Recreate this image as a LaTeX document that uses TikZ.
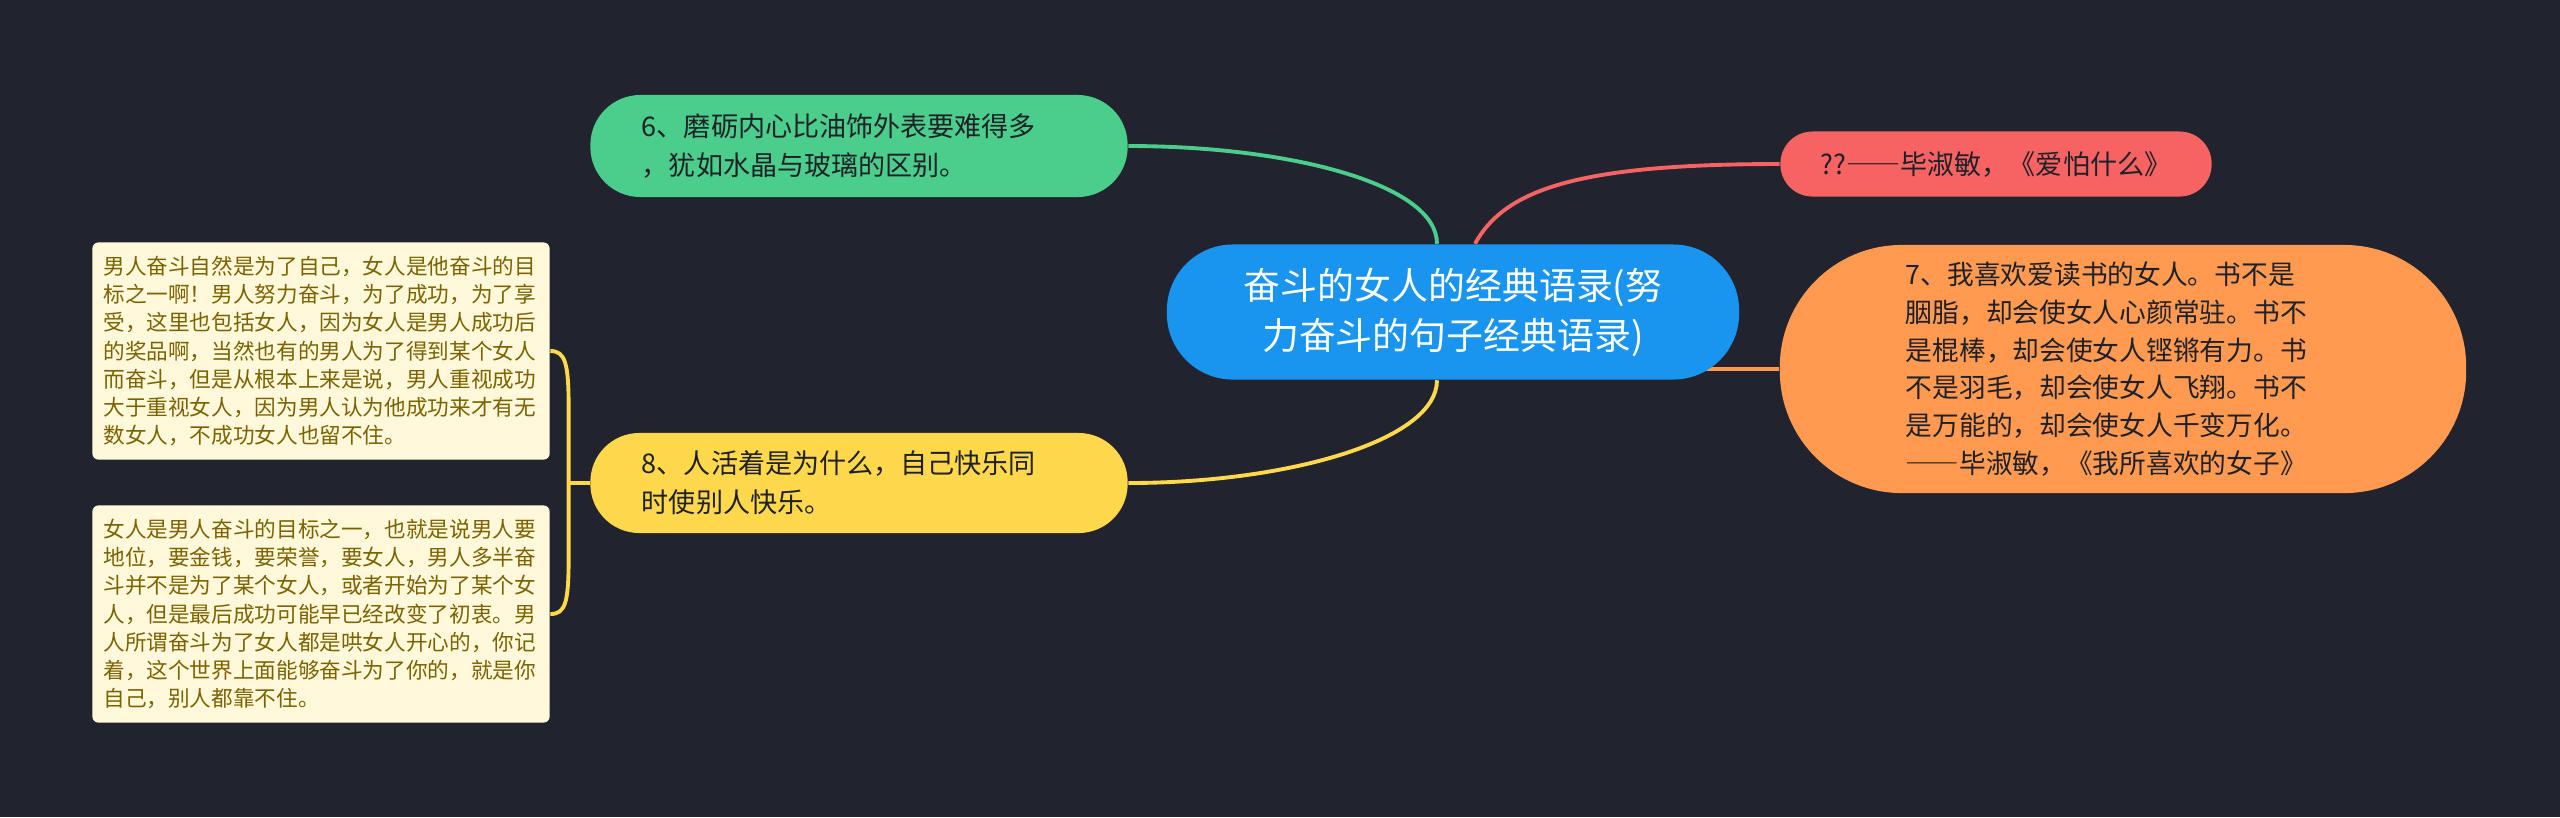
\documentclass[tikz,border=0pt]{standalone}
\usepackage{fontspec}
\setmainfont{Noto Sans CJK SC}
\newfontfamily\widefont[RawFeature=+fwid]{Noto Sans CJK SC}
\newcommand{\longdash}{{\widefont ——}}
\usetikzlibrary{calc,backgrounds}
\definecolor{bgdark}{HTML}{21242F}
\definecolor{inkdark}{HTML}{1F2129}
\definecolor{hubblue}{HTML}{1A95EF}
\definecolor{tipgreen}{HTML}{4BCD8B}
\definecolor{tipyellow}{HTML}{FFD84B}
\definecolor{tiporange}{HTML}{FF9A50}
\definecolor{tipred}{HTML}{F76262}
\definecolor{notefill}{HTML}{FFF8DA}
\definecolor{noteink}{HTML}{7C6300}

\begin{document}
\begin{tikzpicture}[
  x=0.01cm, y=-0.01cm,
  topic/.style={rectangle, inner sep=0pt, align=left, text=inkdark,
                font=\fontsize{7.7}{11.1}\selectfont},
  note/.style={rectangle, rounded corners=0.06cm, fill=notefill, text=noteink,
               align=left, text width=4.35cm, minimum width=4.57cm,
               minimum height=2.17cm, inner sep=0pt,
               font=\fontsize{6.15}{8.05}\selectfont},
  link/.style={line width=1.1pt}
]
  \useasboundingbox (0,0) rectangle (2560,817);

  % Central topic
  \node[rectangle, fill=hubblue, text=white, align=center, inner sep=0pt,
        minimum width=5.72cm, minimum height=1.35cm, rounded corners=0.66cm,
        font=\fontsize{10.5}{14.2}\selectfont]
        (hub) at (1453,312) {奋斗的女人的经典语录(努\\力奋斗的句子经典语录)};

  % Left branches
  \node[topic, fill=tipgreen, minimum width=5.37cm, minimum height=1.02cm,
        rounded corners=0.5cm, text width=4.34cm]
        (tip6) at (859,146) {6、磨砺内心比油饰外表要难得多\\，犹如水晶与玻璃的区别。};
  \node[topic, fill=tipyellow, minimum width=5.37cm, minimum height=1.0cm,
        rounded corners=0.49cm, text width=4.34cm]
        (tip8) at (859,483) {8、人活着是为什么，自己快乐同\\时使别人快乐。};

  % Right branches
  \node[topic, fill=tipred, align=center, minimum width=4.31cm,
        minimum height=0.65cm, rounded corners=0.32cm]
        (quote) at (1996,164) {??\longdash 毕淑敏，《爱怕什么》};
  \node[topic, fill=tiporange, minimum width=6.86cm, minimum height=2.48cm,
        rounded corners=1.22cm, text width=4.34cm,
        font=\fontsize{7.6}{10.7}\selectfont]
        (tip7) at (2123,369) {7、我喜欢爱读书的女人。书不是\\胭脂，却会使女人心颜常驻。书不\\是棍棒，却会使女人铿锵有力。书\\不是羽毛，却会使女人飞翔。书不\\是万能的，却会使女人千变万化。\\\longdash 毕淑敏，《我所喜欢的女子》};

  % Notes under branch 8
  \node[note] (note1) at (321,351) {男人奋斗自然是为了自己，女人是他奋斗的目\\标之一啊！男人努力奋斗，为了成功，为了享\\受，这里也包括女人，因为女人是男人成功后\\的奖品啊，当然也有的男人为了得到某个女人\\而奋斗，但是从根本上来是说，男人重视成功\\大于重视女人，因为男人认为他成功来才有无\\数女人，不成功女人也留不住。};
  \node[note] (note2) at (321,614) {女人是男人奋斗的目标之一，也就是说男人要\\地位，要金钱，要荣誉，要女人，男人多半奋\\斗并不是为了某个女人，或者开始为了某个女\\人，但是最后成功可能早已经改变了初衷。男\\人所谓奋斗为了女人都是哄女人开心的，你记\\着，这个世界上面能够奋斗为了你的，就是你\\自己，别人都靠不住。};
  \coordinate (split) at ($(tip8.west)+(-21,0)$);

  \begin{scope}[on background layer]
    \fill[bgdark] (0,0) rectangle (2560,817);
    % Connectors
    \draw[link, tipgreen] ($(hub.north)+(-16,0)$) .. controls +(0,-60) and +(160,0) .. (tip6.east);
    \draw[link, tipred] ($(hub.north)+(22,0)$) .. controls +(30,-55) and +(-200,0) .. (quote.west);
    \draw[link, tipyellow] ($(hub.south)+(-16,0)$) .. controls +(0,60) and +(160,0) .. (tip8.east);
    \draw[link, tiporange] (hub.center) .. controls ($(tip7.west)+(-220,0)$) .. (tip7.west);
    \draw[link, tipyellow] (split) -- (tip8.west);
    \draw[link, tipyellow] (note1.east) .. controls +(15,0) and +(0,-45) .. ($(split)+(0,-75)$)
      -- ($(split)+(0,75)$) .. controls +(0,45) and +(15,0) .. (note2.east);
  \end{scope}
\end{tikzpicture}
\end{document}
